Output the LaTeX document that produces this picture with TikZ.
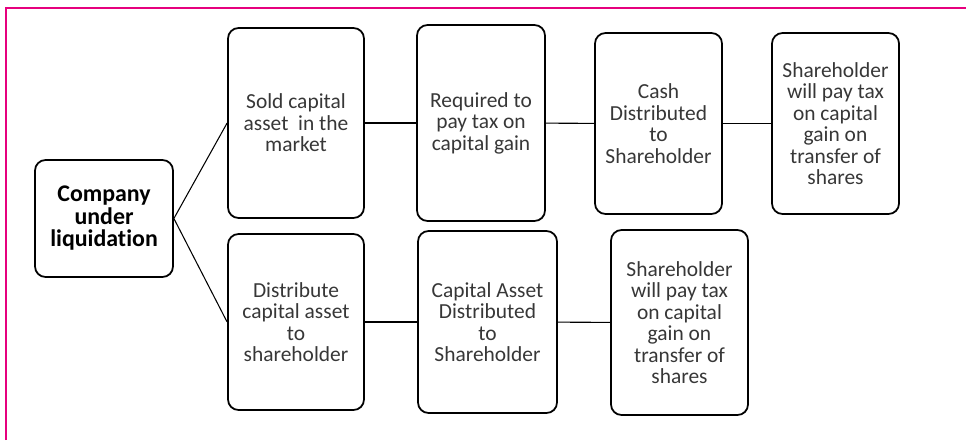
\documentclass[tikz,border=0pt]{standalone}
\usepackage{fontspec}
\setmainfont{Carlito}[Ligatures=NoCommon]
\usepackage{tikz}
\usetikzlibrary{positioning}
\definecolor{framepink}{RGB}{230,0,126}
\definecolor{textgrey}{RGB}{55,55,55}

\begin{document}
\begin{tikzpicture}[
    box/.style={draw, line width=1pt, rounded corners=6pt, align=center,
                text=textgrey, font=\fontsize{12.2}{12.2}\selectfont},
    link/.style={line width=0.6pt}
]
    \useasboundingbox (0,0) rectangle (19.32,-8.8);
    \draw[framepink, line width=0.7pt] (0.12,-8.8) -- (0.12,-0.16) -- (19.32,-0.16);
    \node[box, minimum width=2.76cm, minimum height=2.34cm, text=black,
          font=\fontsize{13.6}{12.8}\selectfont\bfseries] (comp) at (2.08,-4.37) {Company\\under\\liquidation};
    \node[box, minimum width=2.72cm, minimum height=3.8cm]  (sold)  at (5.92,-2.46) {Sold capital\\asset~ in the\\market};
    \node[box, minimum width=2.72cm, minimum height=3.52cm] (dist)  at (5.92,-6.44) {Distribute\\capital asset\\to\\shareholder};
    \node[box, minimum width=2.56cm, minimum height=3.92cm] (req)   at (9.62,-2.46) {Required to\\pay tax on\\capital gain};
    \node[box, minimum width=2.54cm, minimum height=3.62cm] (cash)  at (13.17,-2.47) {Cash\\Distributed\\to\\Shareholder};
    \node[box, minimum width=2.54cm, minimum height=3.62cm] (shta)  at (16.71,-2.47) {Shareholder\\will pay tax\\on capital\\gain on\\transfer of\\shares};
    \node[box, minimum width=2.78cm, minimum height=3.64cm] (capa)  at (9.75,-6.44) {Capital Asset\\Distributed\\to\\Shareholder};
    \node[box, minimum width=2.74cm, minimum height=3.7cm]  (shtb)  at (13.59,-6.45) {Shareholder\\will pay tax\\on capital\\gain on\\transfer of\\shares};
    \draw[link] (comp.east) -- (sold.west);
    \draw[link] (comp.east) -- (dist.west);
    \draw[link] (sold) -- (req);
    \draw[link] (req) -- (cash);
    \draw[link] (cash) -- (shta);
    \draw[link] (dist) -- (capa);
    \draw[link] (capa) -- (shtb);
\end{tikzpicture}
\end{document}
